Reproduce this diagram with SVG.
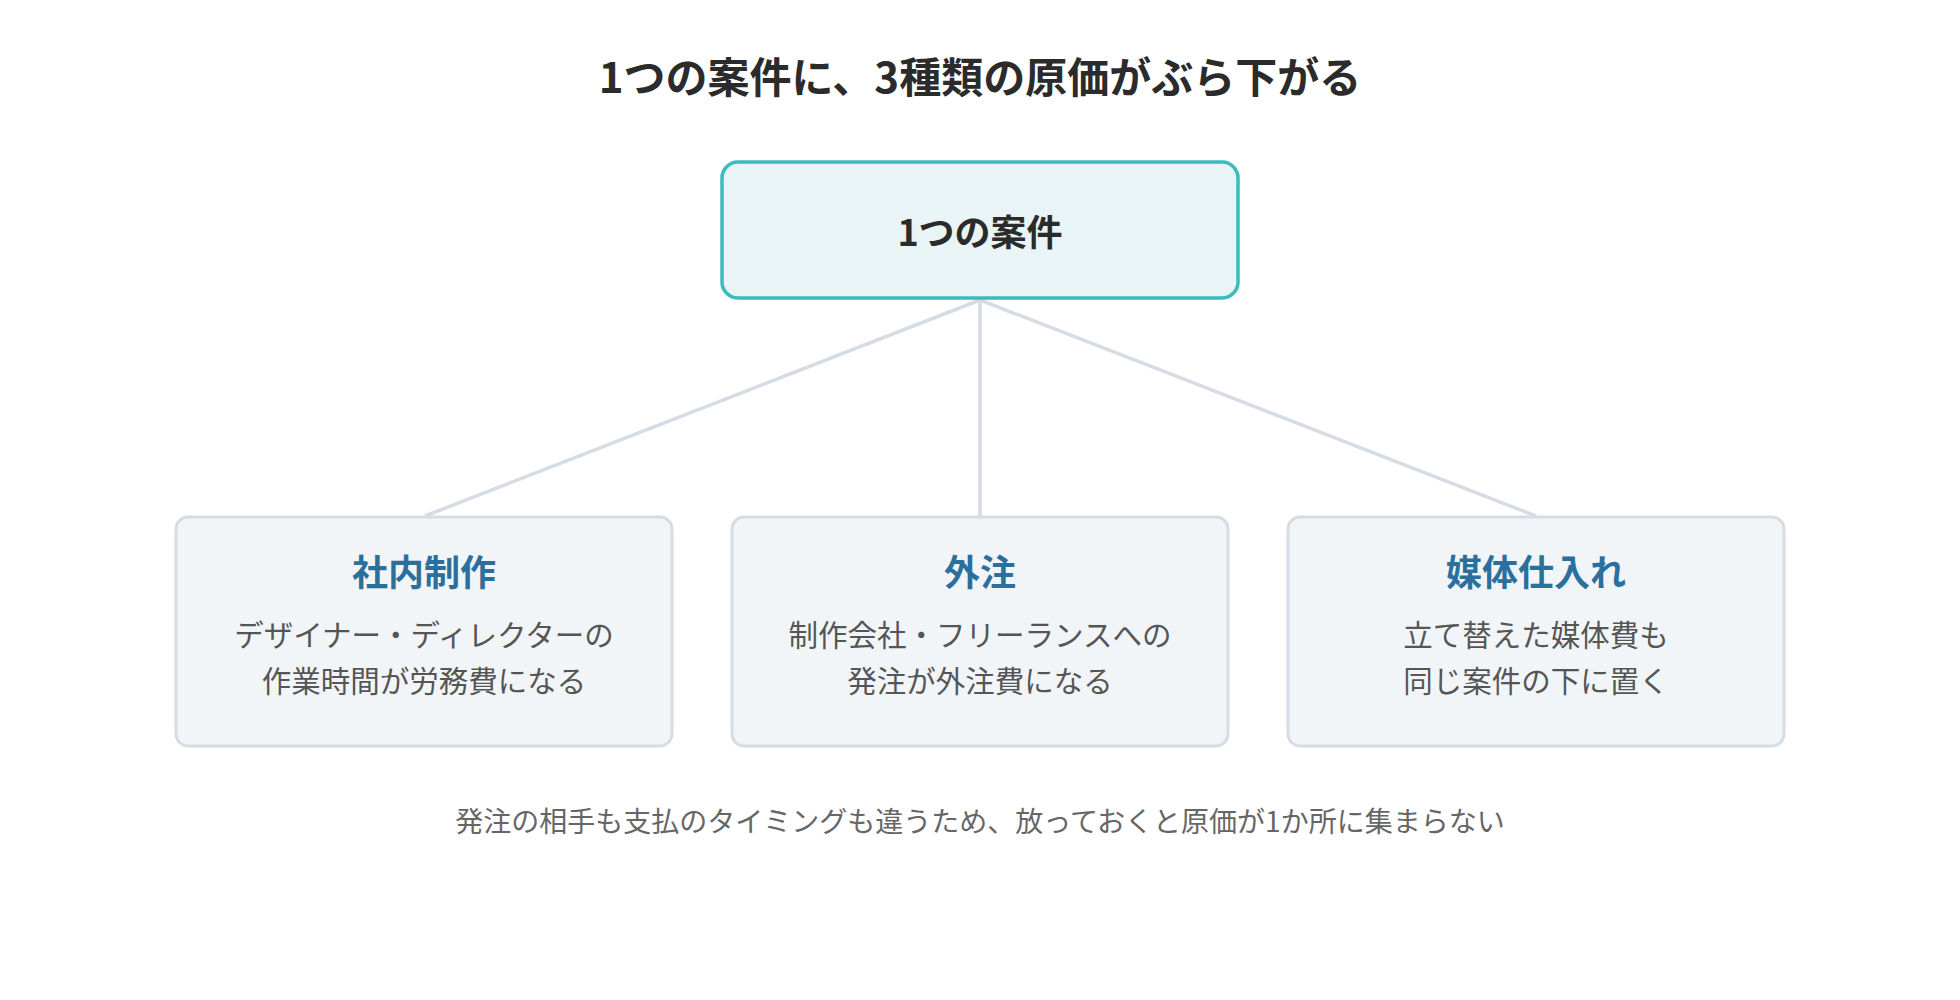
<svg xmlns="http://www.w3.org/2000/svg" width="1960" height="1000" viewBox="0 0 1960 1000">
<style>
text{font-family:"Noto Sans CJK JP","Noto Sans",sans-serif;text-anchor:middle}
.t{font-size:42px;font-weight:700;fill:#2b2b2b}
.h{font-size:36px;font-weight:700;fill:#2b6f9c}
.d{font-size:29.5px;fill:#555}
.f{font-size:28px;fill:#666}
.box{fill:#f2f5f8;stroke:#d5dce3;stroke-width:3}
.c{stroke:#d5dce3;stroke-width:3.5;fill:none}
</style>
<rect width="1960" height="1000" fill="#fff"/>
<text class="t" x="980" y="93">1つの案件に、3種類の原価がぶら下がる</text>
<g id="connectors">
<line class="c" x1="980" y1="300" x2="425" y2="516"/>
<line class="c" x1="980" y1="300" x2="980" y2="516"/>
<line class="c" x1="980" y1="300" x2="1536" y2="516"/>
</g>
<g id="root">
<rect x="722" y="162" width="516" height="136" rx="16" fill="#e9f4f6" stroke="#3bbcbc" stroke-width="3.5"/>
<text x="980" y="246" style="font-size:36px;font-weight:700;fill:#2b2b2b">1つの案件</text>
</g>
<g id="inhouse">
<rect class="box" x="176" y="517" width="496" height="229" rx="12"/>
<text class="h" x="424" y="586">社内制作</text>
<text class="d" x="424" y="646">デザイナー・ディレクターの</text>
<text class="d" x="424" y="692">作業時間が労務費になる</text>
</g>
<g id="outsource">
<rect class="box" x="732" y="517" width="496" height="229" rx="12"/>
<text class="h" x="980" y="586">外注</text>
<text class="d" x="980" y="646">制作会社・フリーランスへの</text>
<text class="d" x="980" y="692">発注が外注費になる</text>
</g>
<g id="media">
<rect class="box" x="1288" y="517" width="496" height="229" rx="12"/>
<text class="h" x="1536" y="586">媒体仕入れ</text>
<text class="d" x="1536" y="646">立て替えた媒体費も</text>
<text class="d" x="1536" y="692">同じ案件の下に置く</text>
</g>
<text class="f" x="980" y="832">発注の相手も支払のタイミングも違うため、放っておくと原価が1か所に集まらない</text>
</svg>
